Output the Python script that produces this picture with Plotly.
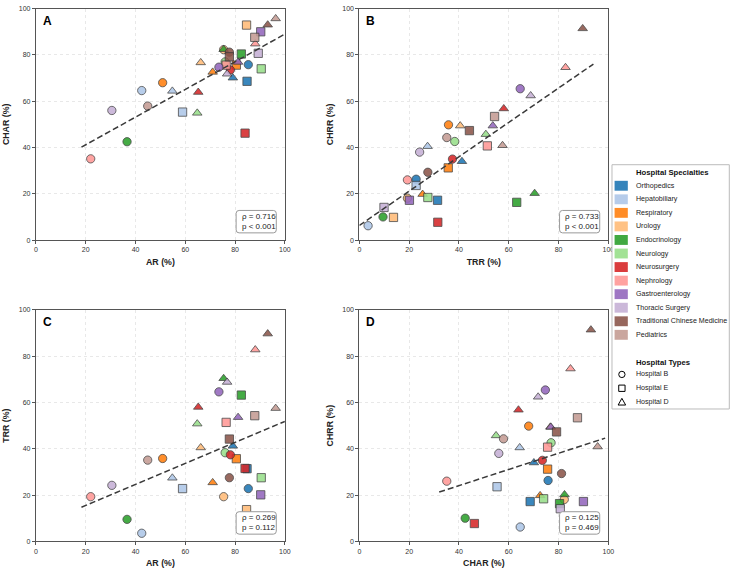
import numpy as np
import plotly.graph_objects as go

W, H = 736, 573

specialties = ["Orthopedics", "Hepatobiliary", "Respiratory", "Urology", "Endocrinology",
               "Neurology", "Neurosurgery", "Nephrology", "Gastroenterology",
               "Thoracic Surgery", "Traditional Chinese Medicine", "Pediatrics"]
colors = ["#1f77b4", "#aec7e8", "#ff7f0e", "#ffbb78", "#2ca02c", "#98df8a",
          "#d62728", "#ff9896", "#9467bd", "#c5b0d5", "#8c564b", "#c49c94"]
hospitals = ["Hospital B", "Hospital E", "Hospital D"]
symbols = ["circle", "square", "triangle-up"]

# values per hospital, in specialty order
AR_B = [85.3, 42.5, 50.9, 75.4, 36.6, 76.0, 78.1, 22.0, 73.5, 30.5, 77.7, 44.9]
CHAR_B = [75.8, 64.6, 68.0, 82.3, 42.5, 77.0, 73.5, 35.1, 74.7, 56.0, 81.2, 57.9]
TRR_B = [22.8, 3.5, 35.8, 19.3, 9.5, 38.3, 37.4, 19.3, 64.6, 24.2, 27.5, 35.1]
CHRR_B = [26.3, 6.2, 49.8, 18.1, 10.0, 42.6, 35.0, 26.0, 65.4, 38.0, 29.3, 44.3]

AR_E = [84.8, 58.9, 80.5, 84.6, 82.5, 90.5, 84.0, 76.4, 90.3, 89.3, 77.7, 87.9]
CHAR_E = [68.6, 55.3, 75.6, 92.9, 80.4, 74.0, 46.2, 75.6, 90.0, 80.7, 79.2, 87.6]
TRR_E = [31.4, 22.8, 35.7, 13.7, 63.2, 27.5, 31.5, 51.4, 20.1, 9.9, 44.2, 54.3]
CHRR_E = [17.2, 23.6, 31.2, 9.8, 16.3, 18.4, 7.7, 40.7, 17.2, 14.1, 47.3, 53.4]

AR_D = [79.1, 54.8, 71.0, 66.2, 75.4, 64.8, 65.2, 88.1, 81.2, 76.8, 93.1, 96.3]
CHAR_D = [70.1, 64.4, 72.6, 76.7, 82.4, 54.9, 63.9, 84.8, 76.9, 71.8, 93.0, 95.7]
TRR_D = [41.2, 27.4, 25.4, 40.5, 70.4, 50.8, 58.0, 82.8, 53.6, 68.8, 89.7, 57.5]
CHRR_D = [34.0, 40.5, 19.8, 49.4, 20.2, 45.7, 56.8, 74.6, 49.4, 62.4, 91.4, 40.9]

metrics = {
    "AR": [AR_B, AR_E, AR_D],
    "CHAR": [CHAR_B, CHAR_E, CHAR_D],
    "TRR": [TRR_B, TRR_E, TRR_D],
    "CHRR": [CHRR_B, CHRR_E, CHRR_D],
}

panels = [("A", "AR", "CHAR"), ("B", "TRR", "CHRR"), ("C", "AR", "TRR"), ("D", "CHAR", "CHRR")]
stats_text = ["ρ = 0.716<br>p &lt; 0.001", "ρ = 0.733<br>p &lt; 0.001",
              "ρ = 0.269<br>p = 0.112", "ρ = 0.125<br>p = 0.469"]

FONT = "Liberation Sans, Arial, sans-serif"

# panel pixel boxes (left, top, right, bottom)
boxes = [(34.3, 4.7, 286.0, 239.0), (361.3, 4.7, 613.0, 239.0),
         (34.3, 309.7, 286.0, 544.0), (361.3, 309.7, 613.0, 544.0)]


def fx(px):
    return px / W


def fy(py):
    return 1 - py / H


fig = go.Figure()
layout = dict(width=W, height=H, margin=dict(l=0, r=0, t=0, b=0),
              plot_bgcolor="white", paper_bgcolor="white", showlegend=False,
              font=dict(family=FONT, color="#333333"))
shapes = []
annotations = []

for k, (letter, xm, ym) in enumerate(panels):
    sfx = "" if k == 0 else str(k + 1)
    xa, ya = "x" + sfx, "y" + sfx
    xs, ys, cs, ss = [], [], [], []
    for i in range(len(specialties)):
        for h in range(len(hospitals)):
            xs.append(metrics[xm][h][i])
            ys.append(metrics[ym][h][i])
            cs.append(colors[i])
            ss.append(symbols[h])
    fig.add_trace(go.Scatter(
        x=xs, y=ys, mode="markers", xaxis=xa, yaxis=ya,
        marker=dict(color=cs, symbol=ss, size=8.3, opacity=0.88,
                    line=dict(color="#333333", width=0.8)),
        hoverinfo="skip"))
    # regression line
    xv, yv = np.array(xs), np.array(ys)
    slope, icpt = np.polyfit(xv, yv, 1)
    rng = xv.max() - xv.min()
    x0 = max(0, xv.min() - 0.05 * rng)
    x1 = min(100, xv.max() + 0.05 * rng)
    fig.add_trace(go.Scatter(
        x=[x0, x1], y=[slope * x0 + icpt, slope * x1 + icpt], mode="lines",
        xaxis=xa, yaxis=ya, line=dict(color="#3a3a3a", width=1.5, dash="6px,3px"),
        hoverinfo="skip"))

    l, t, r, b = boxes[k]
    axcommon = dict(range=[0, 100], tickvals=[0, 20, 40, 60, 80, 100],
                    showline=True, mirror=True, linecolor="#555555", linewidth=1,
                    showgrid=True, gridcolor="#e8e8e8", griddash="dot", gridwidth=0.7,
                    zeroline=False, ticks="outside", ticklen=3, tickcolor="#555555",
                    tickfont=dict(size=7, color="#333333", family=FONT))
    layout["xaxis" + sfx] = dict(axcommon, domain=[fx(l), fx(r)], anchor=ya,
                                 title=dict(text="<b>%s (%%)</b>" % xm, standoff=6,
                                            font=dict(size=8.8, color="#222222")))
    layout["yaxis" + sfx] = dict(axcommon, domain=[fy(b), fy(t)], anchor=xa,
                                 title=dict(text="<b>%s (%%)</b>" % ym, standoff=7,
                                            font=dict(size=8.8, color="#222222")))
    # panel letter
    annotations.append(dict(text="<b>%s</b>" % letter, xref=xa + " domain", yref=ya + " domain",
                            x=0.02, y=0.985, xanchor="left", yanchor="top", showarrow=False,
                            font=dict(size=12, color="black", family=FONT)))
    # stats box (rounded)
    bx0, by0, bx1, by1, rad = r - 49.3, b - 30.0, r - 8.7, b - 7.3, 3.0
    path = ("M {a} {b} L {c} {b} Q {d} {b} {d} {e} L {d} {f} Q {d} {g} {c} {g} "
            "L {a} {g} Q {h} {g} {h} {f} L {h} {e} Q {h} {b} {a} {b} Z").format(
        a=fx(bx0 + rad), b=fy(by0), c=fx(bx1 - rad), d=fx(bx1), e=fy(by0 + rad),
        f=fy(by1 - rad), g=fy(by1), h=fx(bx0))
    shapes.append(dict(type="path", path=path, xref="paper", yref="paper",
                       line=dict(color="#999999", width=1), fillcolor="white",
                       layer="above"))
    annotations.append(dict(text=stats_text[k], xref="paper", yref="paper",
                            x=fx(bx0 + 3.5), y=fy((by0 + by1) / 2), xanchor="left",
                            yanchor="middle", align="left", showarrow=False,
                            font=dict(size=8, color="#222222", family=FONT)))

# manual legend
LX0, LY0, LX1, LY1 = 616.7, 162.7, 735.3, 410.0
shapes.append(dict(type="rect", xref="paper", yref="paper", x0=fx(LX0), x1=fx(LX1),
                   y0=fy(LY1), y1=fy(LY0), line=dict(color="#bbbbbb", width=1),
                   fillcolor="white", layer="above"))
annotations.append(dict(text="<b>Hospital Specialties</b>", xref="paper", yref="paper",
                        x=fx(639.3), y=fy(170.7), xanchor="left", yanchor="middle",
                        showarrow=False, font=dict(size=7.7, color="#111111", family=FONT)))
for i, (name, c) in enumerate(zip(specialties, colors)):
    cy = 184.0 + 13.72 * i
    shapes.append(dict(type="rect", xref="paper", yref="paper", x0=fx(619.3), x1=fx(632.7),
                       y0=fy(cy + 5), y1=fy(cy - 5), line=dict(width=0),
                       fillcolor=c, opacity=0.9, layer="above"))
    annotations.append(dict(text=name, xref="paper", yref="paper", x=fx(638.7), y=fy(cy),
                            xanchor="left", yanchor="middle", showarrow=False,
                            font=dict(size=7.1, color="#222222", family=FONT)))
annotations.append(dict(text="<b>Hospital Types</b>", xref="paper", yref="paper",
                        x=fx(639.3), y=fy(362.7), xanchor="left", yanchor="middle",
                        showarrow=False, font=dict(size=7.7, color="#111111", family=FONT)))
for h, name in enumerate(hospitals):
    cy = 375.0 + 14.0 * h
    cx = 626.7
    s = 3.2
    if symbols[h] == "circle":
        shapes.append(dict(type="circle", xref="paper", yref="paper", x0=fx(cx - s), x1=fx(cx + s),
                           y0=fy(cy + s), y1=fy(cy - s), line=dict(color="black", width=1),
                           layer="above"))
    elif symbols[h] == "square":
        shapes.append(dict(type="rect", xref="paper", yref="paper", x0=fx(cx - s), x1=fx(cx + s),
                           y0=fy(cy + s), y1=fy(cy - s), line=dict(color="black", width=1),
                           layer="above"))
    else:
        p = "M {} {} L {} {} L {} {} Z".format(fx(cx - 3.8), fy(cy + 3.0), fx(cx + 3.8), fy(cy + 3.0),
                                               fx(cx), fy(cy - 3.8))
        shapes.append(dict(type="path", path=p, xref="paper", yref="paper",
                           line=dict(color="black", width=1), layer="above"))
    annotations.append(dict(text=name, xref="paper", yref="paper", x=fx(639.0), y=fy(cy),
                            xanchor="left", yanchor="middle", showarrow=False,
                            font=dict(size=7.1, color="#222222", family=FONT)))

layout["shapes"] = shapes
layout["annotations"] = annotations
fig.update_layout(**layout)
fig.write_html("out.html")
